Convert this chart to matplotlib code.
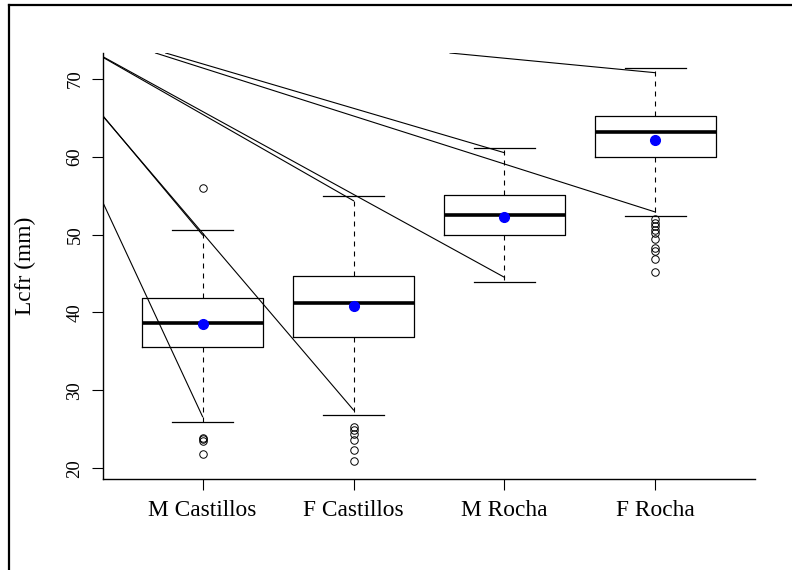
import matplotlib
matplotlib.use("Agg")
import matplotlib.pyplot as plt
from matplotlib.lines import Line2D

plt.rcParams['font.family'] = ['Liberation Serif', 'DejaVu Serif']
plt.rcParams['lines.scale_dashes'] = False

# ---- data ----
categories = ["M Castillos", "F Castillos", "M Rocha", "F Rocha"]
q1 = [35.6, 36.9, 49.9, 59.9]
medians = [38.7, 41.25, 52.5, 63.1]
q3 = [41.9, 44.7, 55.1, 65.2]
means = [38.5, 40.85, 52.25, 62.1]
whisker_low = [26.0, 26.8, 43.9, 52.35]
whisker_high = [50.55, 54.9, 61.15, 71.4]
outliers = [
    [55.95, 23.9, 23.7, 23.5, 21.9],
    [25.3, 24.9, 24.45, 23.6, 22.3, 20.9],
    [],
    [52.0, 51.5, 51.1, 50.6, 50.15, 49.4, 48.3, 47.9, 46.8, 45.25],
]
# stray connector lines: (start x, start y) -> (end x, end y), data units
line_start_x = [0.337, 0.337, 0.337, 0.337, 0.337, 0.755, 0.688, 2.639]
line_start_y = [72.77, 72.85, 65.30, 65.24, 54.21, 73.30, 73.30, 73.30]
line_end_x = [2, 3, 1, 2, 1, 3, 4, 4]
line_end_y = [54.34, 44.51, 49.94, 27.48, 26.62, 60.50, 52.89, 70.77]

y_ticks = [20, 30, 40, 50, 60, 70]

# ---- figure ----
W, H = 792, 570
fig = plt.figure(figsize=(W / 100, H / 100), dpi=100)
ax = fig.add_axes([103 / W, 1 - 479 / H, (755 - 103) / W, (479 - 53) / H])

positions = list(range(1, len(categories) + 1))
stats = []
for i in range(len(categories)):
    stats.append(dict(med=medians[i], q1=q1[i], q3=q3[i], whislo=whisker_low[i],
                      whishi=whisker_high[i], fliers=outliers[i], mean=means[i],
                      label=categories[i]))

ax.bxp(stats, positions=positions, widths=0.8, capwidths=0.4, showmeans=True,
       boxprops=dict(color='black', linewidth=0.9),
       medianprops=dict(color='black', linewidth=2.6, solid_capstyle='butt'),
       whiskerprops=dict(color='black', linewidth=0.8, linestyle=(0, (3.6, 3.6))),
       capprops=dict(color='black', linewidth=0.9),
       flierprops=dict(marker='o', markersize=5.4, markerfacecolor='none',
                       markeredgecolor='black', markeredgewidth=0.7, linestyle='none'),
       meanprops=dict(marker='o', markersize=7, markerfacecolor='#0000ff',
                      markeredgecolor='#0000ff'))

for sx, sy, ex, ey in zip(line_start_x, line_start_y, line_end_x, line_end_y):
    ax.plot([sx, ex], [sy, ey], color='black', linewidth=0.8)

ax.set_xlim(0.34, 4.66)
ax.set_ylim(18.63, 73.30)
ax.set_xticks(positions)
ax.set_xticklabels(categories, fontsize=16.8)
ax.set_yticks(y_ticks)
ax.set_yticklabels([str(t) for t in y_ticks], fontsize=13.5, rotation=90, va='center')
ax.tick_params(axis='both', direction='out', length=8, width=0.8, color='black')
ax.tick_params(axis='x', pad=7)
ax.tick_params(axis='y', pad=6)
ax.set_ylabel("Lcfr (mm)", fontsize=16.8, va='center')
ax.yaxis.set_label_coords((25 - 103) / 652, 0.5)
for s in ['top', 'right']:
    ax.spines[s].set_visible(False)
for s in ['left', 'bottom']:
    ax.spines[s].set_linewidth(1.0)

# outer frame (top and left edges visible)
fig.add_artist(Line2D([9.3 / W, 9.3 / W], [0, 1 - 4.7 / H], transform=fig.transFigure,
                      color='black', linewidth=1.6))
fig.add_artist(Line2D([9.3 / W, 1], [1 - 4.7 / H, 1 - 4.7 / H], transform=fig.transFigure,
                      color='black', linewidth=1.6))

fig.savefig("out.png", dpi=100)
